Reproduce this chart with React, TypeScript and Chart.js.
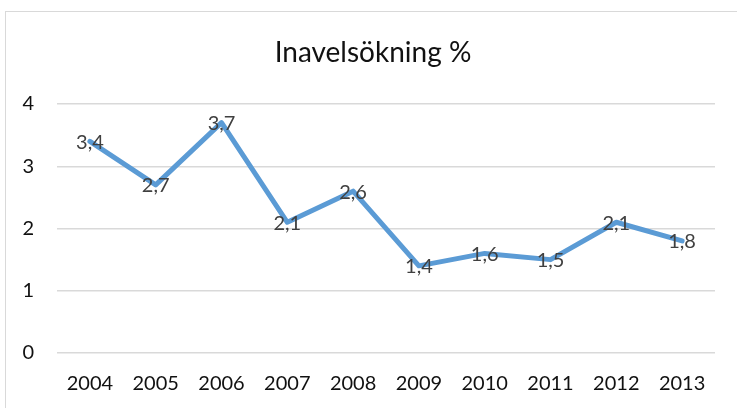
import React, { useEffect, useRef } from "react";
import { Chart, registerables } from "chart.js";

Chart.register(...registerables);

const titleText = "Inavelsökning %";
const years = ["2004", "2005", "2006", "2007", "2008", "2009", "2010", "2011", "2012", "2013"];
const values = [3.4, 2.7, 3.7, 2.1, 2.6, 1.4, 1.6, 1.5, 2.1, 1.8];
const yMin = 0;
const yMax = 4;
const yStep = 1;

const FONT = "Lato, 'Open Sans', sans-serif";

const fmt = (v: number) => String(v).replace(".", ",");

const titlePlugin = {
  id: "customTitle",
  afterDraw(chart: any) {
    const ctx = chart.ctx;
    ctx.save();
    ctx.font = `28px ${FONT}`;
    ctx.fillStyle = "#111111";
    ctx.textAlign = "center";
    ctx.textBaseline = "alphabetic";
    ctx.fillText(titleText, chart.width / 2 + 4.5, 62);
    ctx.restore();
  },
};

const dataLabelPlugin = {
  id: "centerLabels",
  afterDatasetsDraw(chart: any) {
    const ctx = chart.ctx;
    const meta = chart.getDatasetMeta(0);
    ctx.save();
    ctx.font = `20px ${FONT}`;
    ctx.fillStyle = "#404040";
    ctx.textAlign = "center";
    ctx.textBaseline = "middle";
    meta.data.forEach((pt: any, i: number) => {
      ctx.fillText(fmt(values[i]), pt.x, pt.y + 1);
    });
    ctx.restore();
  },
};

export default function App() {
  const ref = useRef<HTMLCanvasElement | null>(null);

  useEffect(() => {
    if (!ref.current) return;
    const chart = new Chart(ref.current, {
      type: "line",
      data: {
        labels: years,
        datasets: [
          {
            data: values,
            borderColor: "#5B9BD5",
            backgroundColor: "#5B9BD5",
            borderWidth: 5,
            borderJoinStyle: "round",
            borderCapStyle: "round",
            pointRadius: 0,
            pointHoverRadius: 0,
            tension: 0,
          },
        ],
      },
      options: {
        animation: false,
        responsive: false,
        maintainAspectRatio: false,
        layout: { padding: { left: 13, right: 22, top: 104, bottom: 12 } },
        plugins: {
          legend: { display: false },
          title: { display: false },
          tooltip: { enabled: false },
        },
        scales: {
          x: {
            offset: true,
            afterFit: (s: any) => {
              s.height = 43;
            },
            grid: { display: false, drawTicks: false },
            border: { display: false },
            ticks: {
              color: "#111111",
              font: { family: FONT, size: 20 },
              padding: 19,
              maxRotation: 0,
              autoSkip: false,
            },
          },
          y: {
            min: yMin,
            max: yMax,
            afterFit: (s: any) => {
              s.width = 44;
            },
            grid: { color: "#d9d9d9", lineWidth: 1.5, drawTicks: false },
            border: { display: false },
            ticks: {
              stepSize: yStep,
              color: "#111111",
              font: { family: FONT, size: 20 },
              padding: 23,
            },
          },
        },
      },
      plugins: [titlePlugin, dataLabelPlugin],
    });
    return () => chart.destroy();
  }, []);

  return (
    <div
      style={{
        position: "fixed",
        left: 0,
        top: 0,
        width: 737,
        height: 408,
        overflow: "hidden",
        background: "#ffffff",
      }}
    >
      <div
        style={{
          position: "absolute",
          left: 5,
          top: 11,
          width: 800,
          height: 500,
          border: "1px solid #d9d9d9",
        }}
      />
      <canvas ref={ref} width={737} height={408} style={{ position: "absolute", left: 0, top: 0 }} />
    </div>
  );
}
